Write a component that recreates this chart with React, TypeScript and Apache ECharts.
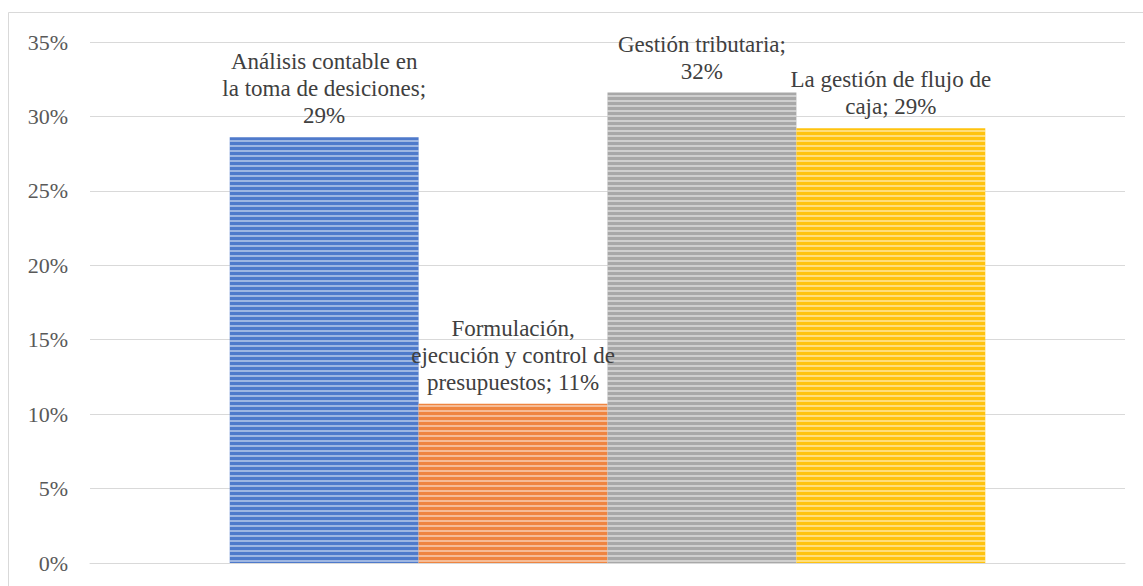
import React, { useEffect, useRef } from "react";
import * as echarts from "echarts";

const categories = [""];
const seriesNames = [
  "Análisis contable en la toma de desiciones",
  "Formulación, ejecución y control de presupuestos",
  "Gestión tributaria",
  "La gestión de flujo de caja",
];
const seriesValues = [0.286, 0.107, 0.316, 0.292];
const labelTexts = [
  "Análisis contable en\nla toma de desiciones;\n29%",
  "Formulación,\nejecución y control de\npresupuestos; 11%",
  "Gestión tributaria;\n32%",
  "La gestión de flujo de\ncaja; 29%",
];
const seriesColors = ["#4f7acb", "#ef8540", "#a8a8a8", "#ffc30f"];
const yTicks = [0, 0.05, 0.1, 0.15, 0.2, 0.25, 0.3, 0.35];

export default function App() {
  const ref = useRef<HTMLDivElement>(null);
  useEffect(() => {
    if (!ref.current) return;
    const chart = echarts.init(ref.current, undefined, { renderer: "svg" });
    const font = "Liberation Serif";
    chart.setOption({
      animation: false,
      textStyle: { fontFamily: font },
      graphic: [
        {
          type: "rect",
          shape: { x: 8.5, y: 12.5, width: 1300, height: 700 },
          style: { fill: "none", stroke: "#d9d9d9", lineWidth: 1 },
          silent: true,
        },
      ],
      grid: { left: 90, right: 18, top: 42, bottom: 23 },
      xAxis: {
        type: "category",
        data: categories,
        axisLine: { lineStyle: { color: "#d9d9d9" } },
        axisTick: { show: false },
        axisLabel: { show: false },
      },
      yAxis: {
        type: "value",
        min: yTicks[0],
        max: yTicks[yTicks.length - 1],
        interval: 0.05,
        axisLine: { show: false },
        axisTick: { show: false },
        splitLine: { lineStyle: { color: "#d9d9d9" } },
        axisLabel: {
          margin: 22,
          color: "#595959",
          fontFamily: font,
          fontSize: 22,
          formatter: (v: number) => `${Math.round(v * 100)}%`,
        },
      },
      series: seriesValues.map((v, i) => ({
        name: seriesNames[i],
        type: "bar",
        data: [v],
        barGap: "0%",
        barCategoryGap: "27%",
        itemStyle: {
          color: seriesColors[i],
          decal: {
            symbol: "rect",
            symbolSize: 1,
            dashArrayX: [200, 0],
            dashArrayY: [2, 3],
            rotation: 0,
            color: "rgba(255,255,255,0.45)",
          },
        },
        label: {
          show: true,
          position: "top",
          distance: 8,
          formatter: () => labelTexts[i],
          color: "#404040",
          fontFamily: font,
          fontSize: 23,
          lineHeight: 27,
          align: "center",
        },
      })),
    });
    return () => chart.dispose();
  }, []);
  return (
    <div
      ref={ref}
      style={{ position: "fixed", left: 0, top: 0, width: 1143, height: 586, background: "#fff" }}
    />
  );
}
